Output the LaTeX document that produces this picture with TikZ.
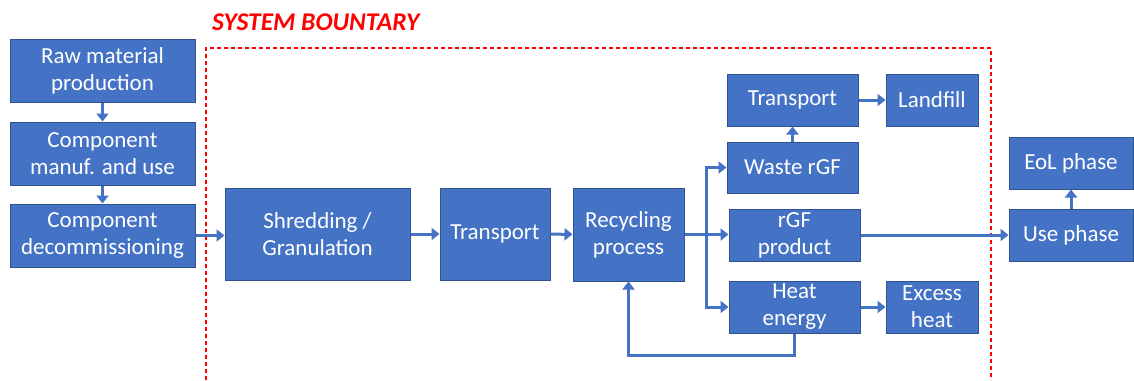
\documentclass[tikz,border=0pt]{standalone}
\usepackage{fontspec}
\setmainfont{Carlito}
\usetikzlibrary{arrows.meta}
\definecolor{boxfill}{HTML}{4472C4}
\definecolor{boxline}{HTML}{2F528F}
\definecolor{arrcol}{HTML}{4472C4}
\definecolor{bred}{HTML}{FF0000}
\tikzset{
  box/.style={draw=boxline, line width=1pt, fill=boxfill, text=white, inner sep=0pt, align=center,
    font=\fontsize{23}{27}\selectfont},
  arr/.style={draw=arrcol, line width=3pt, line join=miter, -{Triangle[length=8pt,width=12pt]}},
  bound/.style={draw=bred, line width=1.2pt, dash pattern=on 4pt off 3pt}
}
\begin{document}
\begin{tikzpicture}[x=1pt,y=1pt]
\useasboundingbox (0,0) rectangle (1134,-380);
% boundary
\draw[bound] (206,-380) -- (206,-48) -- (991,-48) -- (991,-380);
\node[anchor=west, inner sep=0pt, text=bred, font=\fontsize{25.5}{28}\selectfont\bfseries\itshape] (title) at (212,-22) {SYSTEM BOUNTARY};
% boxes
\node[box, minimum width=185pt, minimum height=63pt] (raw) at (102.5,-70.5) {Raw material\\production};
\node[box, minimum width=185pt, minimum height=63pt] (manuf) at (102.5,-153.5) {Component\\manuf. and use};
\node[box, minimum width=185pt, minimum height=63pt] (decom) at (102.5,-235.5) {Component\\decommissioning};
\node[box, minimum width=185pt, minimum height=92pt] (shred) at (317.5,-234) {Shredding /\\Granulation};
\node[box, minimum width=110pt, minimum height=92pt] (trans1) at (495,-234) {Transport};
\node[box, minimum width=111pt, minimum height=93pt] (recyc) at (628.5,-234.5) {Recycling\\process};
\node[box, minimum width=131pt, minimum height=52pt] (trans2) at (792.5,-100) {Transport};
\node[box, minimum width=92pt, minimum height=52pt] (landfill) at (932,-100) {Landfill};
\node[box, minimum width=131pt, minimum height=51pt] (waste) at (792.5,-167.5) {Waste rGF};
\node[box, minimum width=131pt, minimum height=52pt] (rgf) at (794.5,-235) {rGF\\product};
\node[box, minimum width=131pt, minimum height=52pt] (heat) at (794.5,-307) {Heat\\energy};
\node[box, minimum width=92pt, minimum height=52pt] (excess) at (932,-307) {Excess\\heat};
\node[box, minimum width=124pt, minimum height=52pt] (eol) at (1071,-163) {EoL phase};
\node[box, minimum width=124pt, minimum height=52pt] (use) at (1071,-235) {Use phase};
% connectors
\draw[arr] (raw) -- (manuf);
\draw[arr] (manuf) -- (decom);
\draw[arr] (decom.east) -- (decom.east -| shred.west);
\draw[arr] (shred) -- (trans1);
\draw[arr] (trans1) -- (recyc);
\draw[arr] (recyc.east) -- (recyc.east -| rgf.west);
\coordinate (br) at (706,-234.5);
\draw[arr] (br) |- (waste.west);
\draw[arr] (br) |- (heat.west);
\draw[arr] (waste.north) -- (waste.north |- trans2.south);
\draw[arr] (trans2) -- (landfill);
\draw[arr] (heat) -- (excess);
\draw[arr] (rgf.east) -- (rgf.east -| use.west);
\draw[arr] (use) -- (eol);
\draw[arr] (heat.south) -- ++(0,-22) -| (recyc.south);
\end{tikzpicture}
\end{document}
